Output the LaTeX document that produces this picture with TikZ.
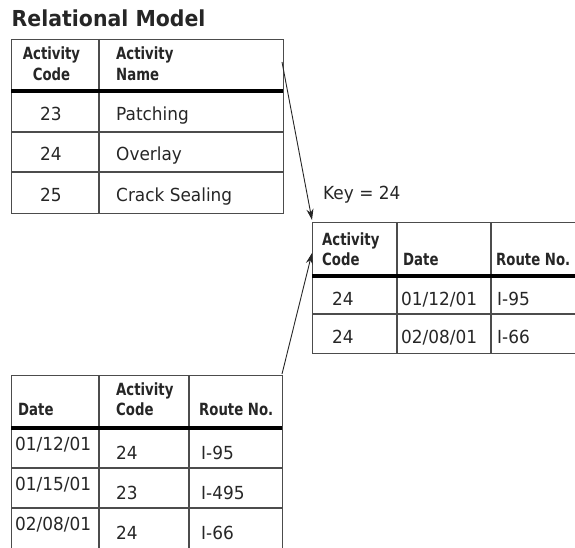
\documentclass[tikz,border=0pt]{standalone}
\usepackage{fontspec}
\setmainfont{DejaVu Sans}
\newfontfamily\hdrfont[FakeStretch=0.79]{DejaVu Sans}
\newfontfamily\datfont[FakeStretch=0.94]{DejaVu Sans}
\newfontfamily\ttlfont[FakeStretch=0.93]{DejaVu Sans}
\usetikzlibrary{arrows.meta}
\begin{document}
\begin{tikzpicture}[x=1pt,y=-1pt,
  grid/.style={draw=black!70, line width=1.3pt},
  sepline/.style={draw=black, line width=4pt},
  tbl/.style={draw=black!70, line width=1.3pt, anchor=north west, inner sep=0pt},
  hd/.style={font=\hdrfont\bfseries\fontsize{16.8}{19}\selectfont, text=black!85, inner sep=0pt, anchor=base west},
  hdc/.style={hd, anchor=base},
  dt/.style={font=\datfont\fontsize{18}{20}\selectfont, text=black!85, inner sep=0pt, anchor=base west},
  dtc/.style={dt, anchor=base},
  link/.style={draw=black!85, line width=0.9pt, -{Stealth[length=11pt,width=7pt]}}]
\useasboundingbox (0,0) rectangle (575,548);
\clip (0,0) rectangle (575,548);
% title
\node[font=\ttlfont\bfseries\fontsize{22}{24}\selectfont, text=black!85, inner sep=0pt, anchor=base west] (title) at (11.5,26.5) {Relational Model};
% table 1
\node[tbl, minimum width=272pt, minimum height=174pt] (t1) at (11,39) {};
\draw[grid] (99,39) -- (99,213);
\draw[grid] (11,132) -- (283,132);
\draw[grid] (11,172) -- (283,172);
\draw[sepline] (11,91) -- (283,91);
\node[hdc] (t1h1a) at (51.5,60) {Activity};
\node[hdc] (t1h1b) at (51.5,81) {Code};
\node[hd] (t1h2a) at (116,60) {Activity};
\node[hd] (t1h2b) at (116,81) {Name};
\node[dtc] (t1r1a) at (51,121) {23};
\node[dt] (t1r1b) at (116,121) {Patching};
\node[dtc] (t1r2a) at (51,161) {24};
\node[dt] (t1r2b) at (116,161) {Overlay};
\node[dtc] (t1r3a) at (51,201) {25};
\node[dt] (t1r3b) at (116,201) {Crack Sealing};
% key
\node[dt] (key) at (323,200) {Key = 24};
% table 2
\node[tbl, minimum width=285pt, minimum height=131pt] (t2) at (312,222) {};
\draw[grid] (397,222) -- (397,353);
\draw[grid] (491,222) -- (491,353);
\draw[grid] (312,314) -- (600,314);
\draw[sepline] (312,276) -- (600,276);
\node[hd] (t2h1a) at (322,245) {Activity};
\node[hd] (t2h1b) at (322,265) {Code};
\node[hd] (t2h2) at (403,265) {Date};
\node[hd] (t2h3) at (496,265) {Route No.};
\node[dt] (t2r1a) at (332,305) {24};
\node[dt] (t2r1b) at (401,305) {01/12/01};
\node[dt] (t2r1c) at (497,305) {I-95};
\node[dt] (t2r2a) at (332,343) {24};
\node[dt] (t2r2b) at (401,343) {02/08/01};
\node[dt] (t2r2c) at (497,343) {I-66};
% table 3
\node[tbl, minimum width=271pt, minimum height=195pt] (t3) at (11,375) {};
\draw[grid] (99,375) -- (99,580);
\draw[grid] (189,375) -- (189,580);
\draw[grid] (11,468) -- (282,468);
\draw[grid] (11,508) -- (282,508);
\draw[sepline] (11,428) -- (282,428);
\node[hd] (t3h1) at (18,415) {Date};
\node[hd] (t3h2a) at (116,395) {Activity};
\node[hd] (t3h2b) at (116,415) {Code};
\node[hd] (t3h3) at (199,415) {Route No.};
\node[dt] (t3r1a) at (15,450) {01/12/01};
\node[dt] (t3r1b) at (116,459) {24};
\node[dt] (t3r1c) at (201,459) {I-95};
\node[dt] (t3r2a) at (15,490) {01/15/01};
\node[dt] (t3r2b) at (116,499) {23};
\node[dt] (t3r2c) at (201,499) {I-495};
\node[dt] (t3r3a) at (15,530) {02/08/01};
\node[dt] (t3r3b) at (116,539) {24};
\node[dt] (t3r3c) at (201,539) {I-66};
% arrows
\coordinate (a1s) at (282,62);
\coordinate (a1e) at (312,220);
\coordinate (a2s) at (282,374);
\coordinate (a2e) at (312,253);
\draw[link] (a1s) -- (a1e);
\draw[link] (a2s) -- (a2e);
\end{tikzpicture}
\end{document}
